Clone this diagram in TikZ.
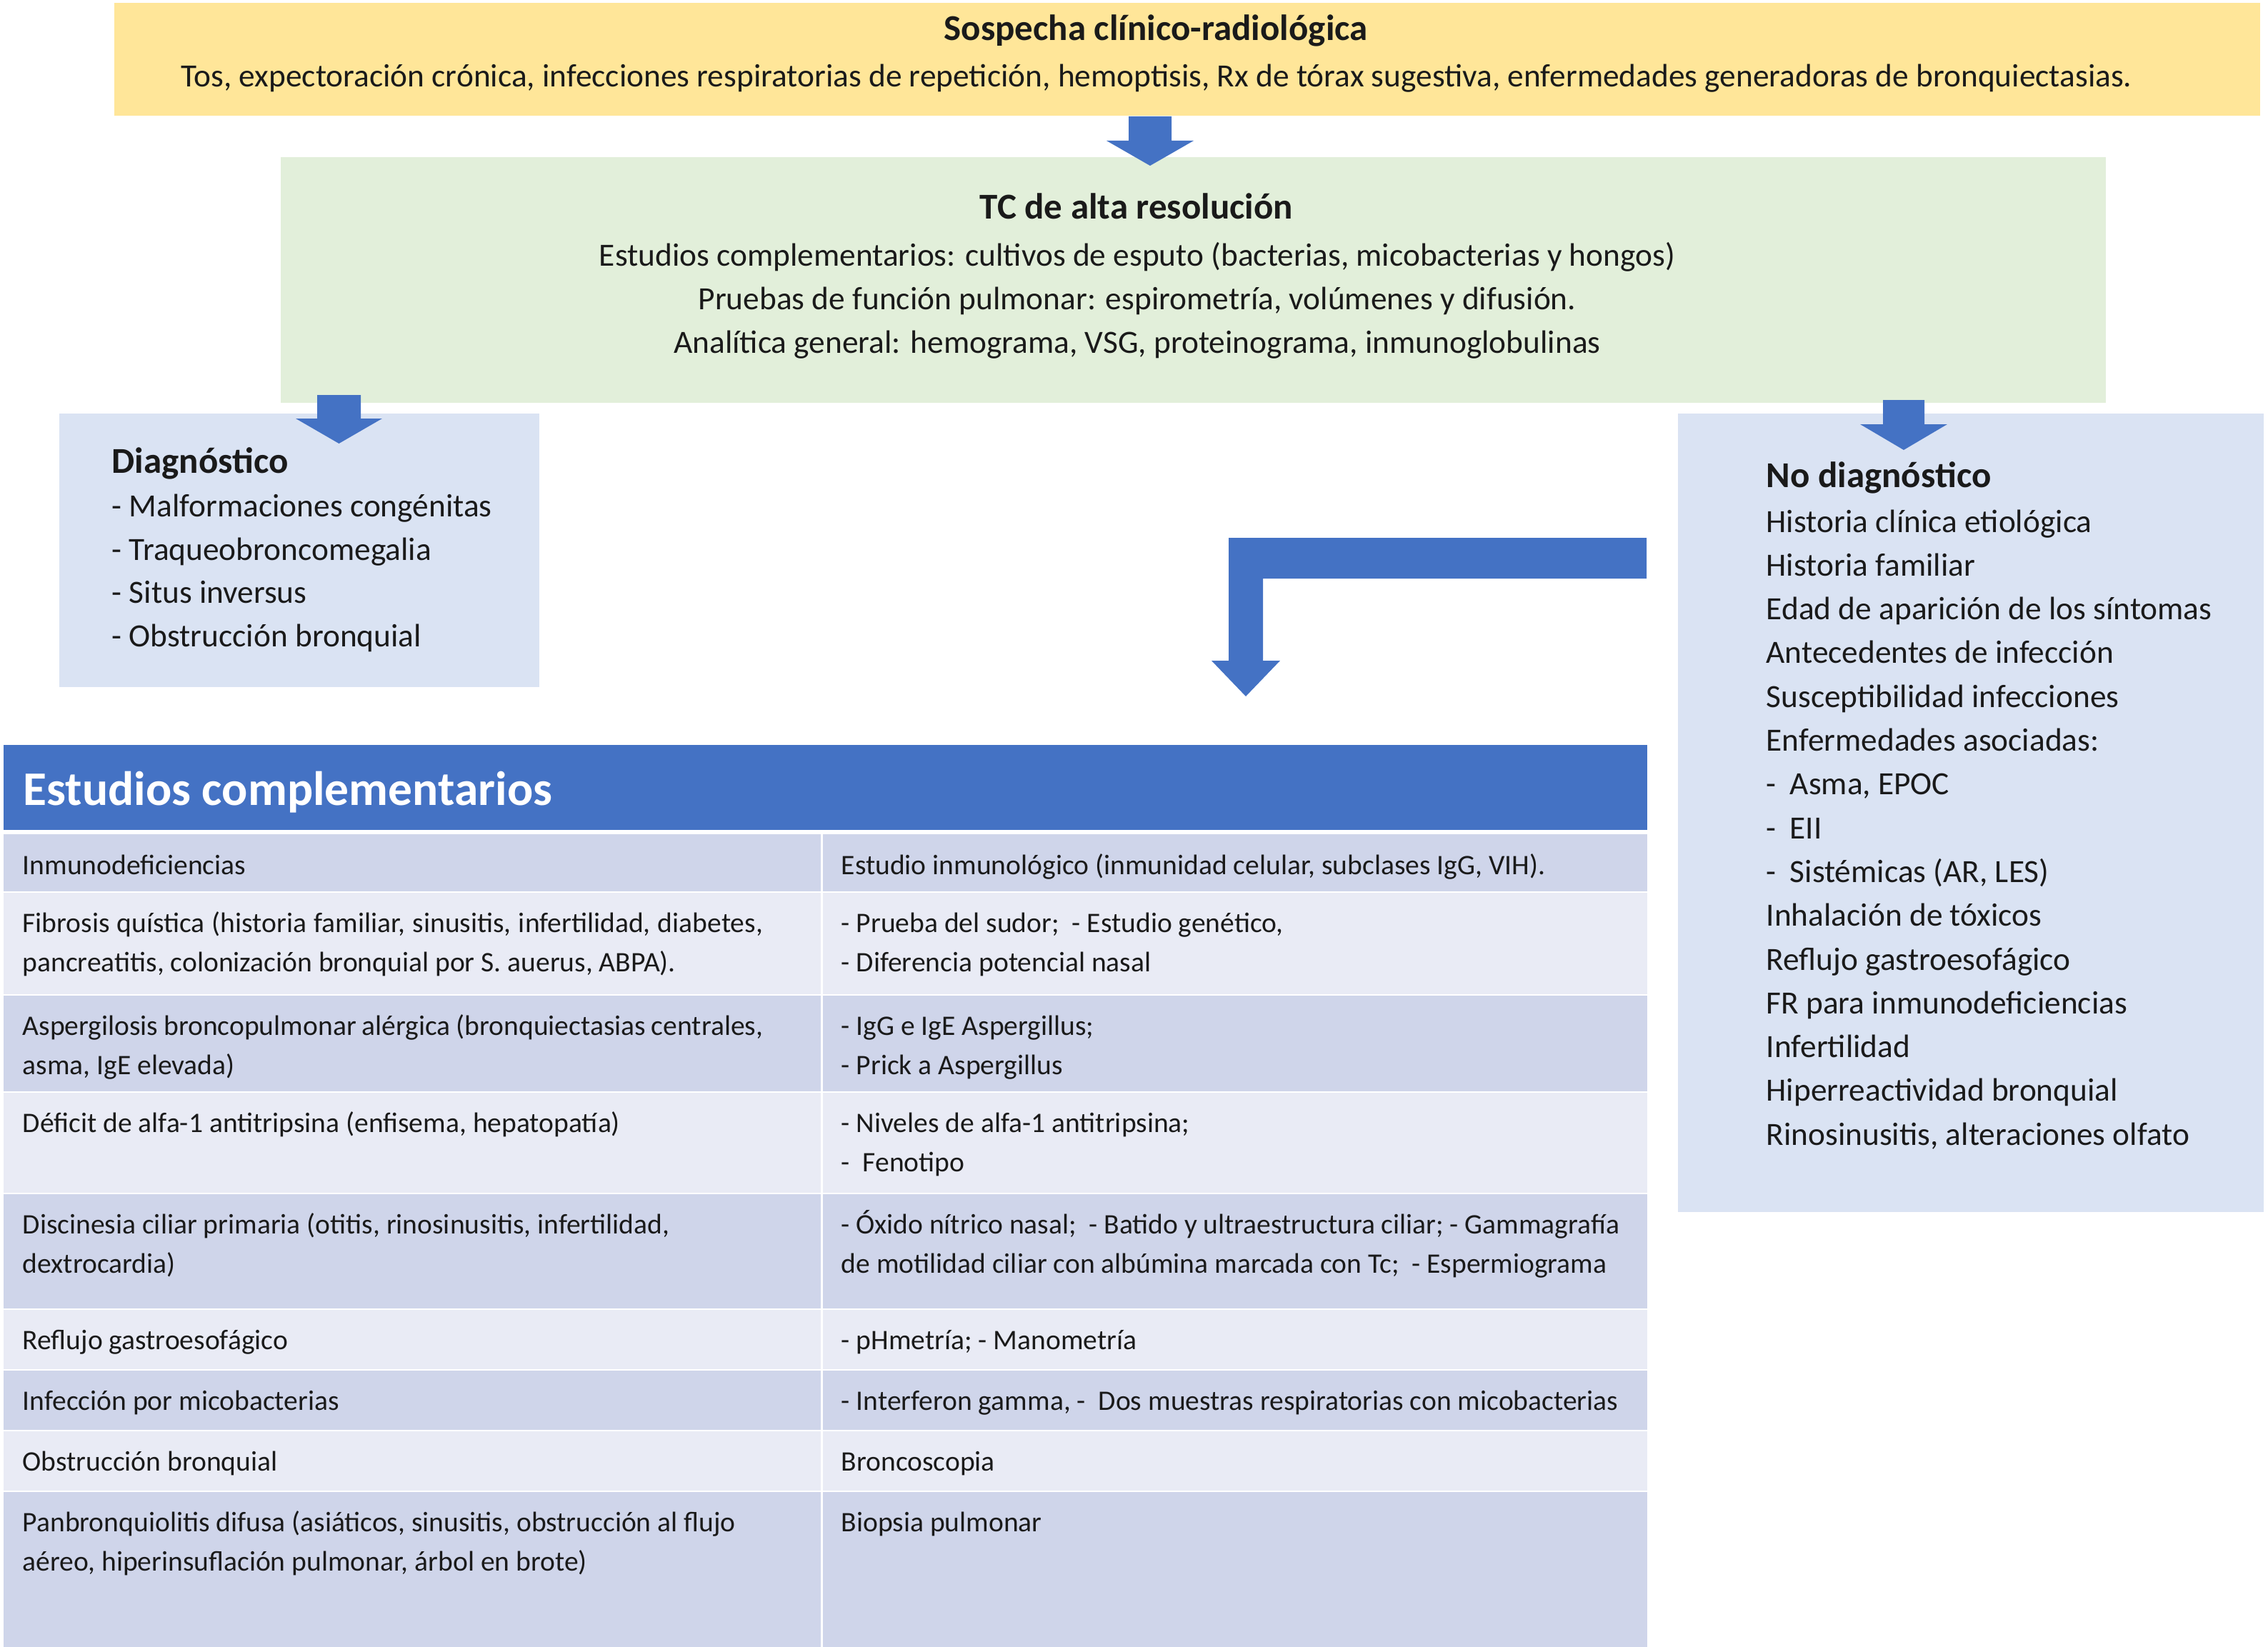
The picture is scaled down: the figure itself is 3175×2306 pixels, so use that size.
\documentclass[tikz,border=0pt]{standalone}
\usepackage{fontspec}
\setmainfont{Carlito}
\usetikzlibrary{fit}
\definecolor{cyellow}{HTML}{FFE699}
\definecolor{cgreen}{HTML}{E2EFDA}
\definecolor{cbox}{HTML}{DAE3F3}
\definecolor{cblue}{HTML}{4472C4}
\definecolor{crowd}{HTML}{CFD5EA}
\definecolor{crowl}{HTML}{E9EBF5}
\definecolor{ctext}{HTML}{1A1A1A}
\begin{document}
\begin{tikzpicture}[x=0.01cm,y=-0.01cm,
  panel/.style={inner sep=0pt,outer sep=0pt},
  ln/.style={inner sep=0pt,anchor=base west,text=ctext},
  lnc/.style={inner sep=0pt,anchor=base,text=ctext},
  ttl/.style={font=\bfseries\fontsize{14.5}{17}\selectfont},
  bodyA/.style={font=\fontsize{12.9}{15}\selectfont},
  bodyB/.style={font=\fontsize{12.9}{15}\selectfont},
  tb/.style={ln,font=\fontsize{11.25}{14}\selectfont},
  blk/.style={fill=cblue}]
\useasboundingbox (0,0) rectangle (3175,2306);
\fill[white] (0,0) rectangle (3175,2306);

% panels
\node[panel,fill=cyellow,fit={(160,4) (3164,162)}] (sosp) {};
\node[panel,fill=cgreen,fit={(393,220) (2948,564)}] (tc) {};
\node[panel,fill=cbox,fit={(83,579) (755,962)}] (diag) {};
\node[panel,fill=cbox,fit={(2349,579) (3169,1697)}] (nodiag) {};

% block arrows
\fill[blk] (1580,163) -- (1640,163) -- (1640,197) -- (1671,197) -- (1610,232) -- (1549,197) -- (1580,197) -- cycle;
\fill[blk] (444,553) -- (505,553) -- (505,586) -- (535,586) -- (474.5,621) -- (414,586) -- (444,586) -- cycle;
\fill[blk] (2636,560) -- (2694,560) -- (2694,594) -- (2726,594) -- (2665,630) -- (2604,594) -- (2636,594) -- cycle;
\fill[blk] (2305,753) -- (2305,810) -- (1768,810) -- (1768,925) -- (1792,925) -- (1744,975) -- (1696,925) -- (1720,925) -- (1720,753) -- cycle;

% yellow
\node[lnc,ttl] (t1) at (1618,57) {Sospecha clínico-radiológica};
\node[lnc,bodyA] (t2) at (1619,122) {Tos, expectoración crónica, infecciones respiratorias de repetición, hemoptisis, Rx de tórax sugestiva, enfermedades generadoras de bronquiectasias.};

% green
\node[lnc,ttl] (g0) at (1591,307) {TC de alta resolución};
\node[lnc,bodyA] (g1) at (1592,372) {Estudios complementarios: cultivos de esputo (bacterias, micobacterias y hongos)};
\node[lnc,bodyA] (g2) at (1592,433) {Pruebas de función pulmonar: espirometría, volúmenes y difusión.};
\node[lnc,bodyA] (g3) at (1592,494) {Analítica general: hemograma, VSG, proteinograma, inmunoglobulinas};

% diagnostico
\node[ln,ttl] (d0) at (156,662) {Diagnóstico};
\foreach \txt [count=\i] in {- Malformaciones congénitas,- Traqueobroncomegalia,- Situs inversus,- Obstrucción bronquial}
  \node[ln,bodyB] (d\i) at (156,{663+60.5*\i}) {\txt};

% no diagnostico
\node[ln,ttl] (n0) at (2472,682) {No diagnóstico};
\foreach \txt [count=\i from 0] in {Historia clínica etiológica,Historia familiar,Edad de aparición de los síntomas,Antecedentes de infección,Susceptibilidad infecciones,Enfermedades asociadas:,{\makebox[0.73em][l]{-}Asma, EPOC},{\makebox[0.73em][l]{-}EII},{\makebox[0.73em][l]{-}Sistémicas (AR, LES)},Inhalación de tóxicos,Reflujo gastroesofágico,FR para inmunodeficiencias,Infertilidad,Hiperreactividad bronquial,{Rinosinusitis, alteraciones olfato}}
  \node[ln,bodyB] (n\i b) at (2472,{745+61.3*\i}) {\txt};

% table
\node[panel,fill=cblue,fit={(5,1043) (2306,1162)}] (thead) {};
\node[ln,text=white,font=\bfseries\fontsize{19.2}{22}\selectfont] (theadtxt) at (32,1127) {Estudios complementarios};
\foreach \ta/\tb/\cc [count=\i] in {1168/1249/crowd,1249/1393/crowl,1393/1529/crowd,1529/1671/crowl,1671/1833/crowd,1833/1918/crowl,1918/2003/crowd,2003/2088/crowl,2088/2306/crowd}
  \node[panel,fill=\cc,fit={(5,\ta) (2306,\tb)}] (row\i) {};
\foreach \yy in {1249,1393,1529,1671,1833,1918,2003,2088}
  \draw[white,line width=0.025cm] (5,\yy) -- (2306,\yy);
\draw[white,line width=0.03cm] (1150,1168) -- (1150,2306);

% row texts (baseline = row top + 57, line step 55)
\node[tb] (r1a) at (31,1224) {Inmunodeficiencias};
\node[tb] (r1b) at (1177,1224) {Estudio inmunológico (inmunidad celular, subclases IgG, VIH).};

\node[tb] (r2a) at (31,1305) {\makebox[10.36cm][s]{Fibrosis quística (historia familiar, sinusitis, infertilidad, diabetes,}};
\node[tb] (r2a2) at (31,1360) {pancreatitis, colonización bronquial por S. auerus, ABPA).};
\node[tb] (r2b) at (1177,1305) {- Prueba del sudor;~ - Estudio genético,};
\node[tb] (r2b2) at (1177,1360) {- Diferencia potencial nasal};

\node[tb] (r3a) at (31,1449) {\makebox[10.36cm][s]{Aspergilosis broncopulmonar alérgica (bronquiectasias centrales,}};
\node[tb] (r3a2) at (31,1504) {asma, IgE elevada)};
\node[tb] (r3b) at (1177,1449) {- IgG e IgE Aspergillus;};
\node[tb] (r3b2) at (1177,1504) {- Prick a Aspergillus};

\node[tb] (r4a) at (31,1585) {Déficit de alfa-1 antitripsina (enfisema, hepatopatía)};
\node[tb] (r4b) at (1177,1585) {- Niveles de alfa-1 antitripsina;};
\node[tb] (r4b2) at (1177,1640) {-~ Fenotipo};

\node[tb] (r5a) at (31,1727) {Discinesia ciliar primaria (otitis, rinosinusitis, infertilidad,};
\node[tb] (r5a2) at (31,1782) {dextrocardia)};
\node[tb] (r5b) at (1177,1727) {\makebox[10.89cm][s]{- Óxido nítrico nasal;~ - Batido y ultraestructura ciliar; - Gammagrafía}};
\node[tb] (r5b2) at (1177,1782) {de motilidad ciliar con albúmina marcada con Tc;~ - Espermiograma};

\node[tb] (r6a) at (31,1889) {Reflujo gastroesofágico};
\node[tb] (r6b) at (1177,1889) {- pHmetría; - Manometría};

\node[tb] (r7a) at (31,1974) {Infección por micobacterias};
\node[tb] (r7b) at (1177,1974) {- Interferon gamma, -~ Dos muestras respiratorias con micobacterias};

\node[tb] (r8a) at (31,2059) {Obstrucción bronquial};
\node[tb] (r8b) at (1177,2059) {Broncoscopia};

\node[tb] (r9a) at (31,2144) {Panbronquiolitis difusa (asiáticos, sinusitis, obstrucción al flujo};
\node[tb] (r9a2) at (31,2199) {aéreo, hiperinsuflación pulmonar, árbol en brote)};
\node[tb] (r9b) at (1177,2144) {Biopsia pulmonar};
\end{tikzpicture}
\end{document}
